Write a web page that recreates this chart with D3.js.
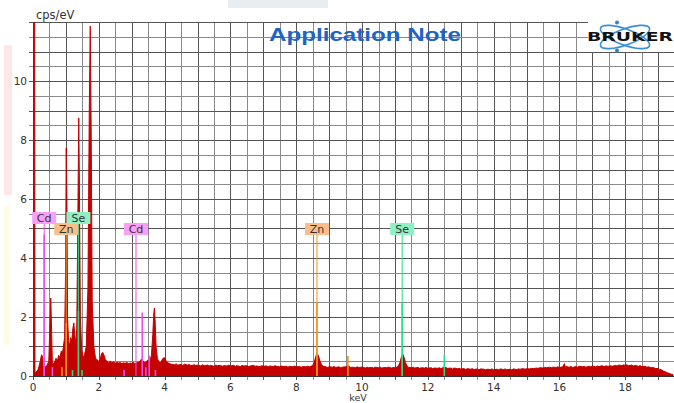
<!DOCTYPE html>
<html>
<head>
<meta charset="utf-8">
<script src="https://cdn.jsdelivr.net/npm/d3@7"></script>
<style>
  body { margin: 0; background: #fff; }
  svg { display: block; }
</style>
</head>
<body>
<div id="chart"></div>
<script>
// EDX spectrum, keV vs cps/eV
var xTicks = [0, 2, 4, 6, 8, 10, 12, 14, 16, 18];
var yTicks = [0, 2, 4, 6, 8, 10];

// [keV, cps/eV]
var spectrum = [
  [0.00, 0], [0.005, 14], [0.05, 14], [0.06, 0.1], [0.10, 0.15], [0.15, 0.2], [0.18, 0.32], [0.22, 0.5],
  [0.26, 0.72], [0.29, 0.65], [0.32, 0.22], [0.36, 0.3], [0.42, 0.35], [0.48, 0.5], [0.51, 1.6],
  [0.54, 2.64], [0.56, 1.8], [0.59, 0.4], [0.65, 0.45], [0.70, 0.6], [0.74, 0.5], [0.78, 0.7],
  [0.82, 0.62], [0.86, 0.85], [0.90, 0.8], [0.93, 1.05], [0.96, 1.3], [0.99, 3.5], [1.01, 7.73],
  [1.03, 6.0], [1.05, 2.0], [1.08, 1.2], [1.11, 1.0], [1.14, 1.3], [1.18, 1.2], [1.21, 1.6],
  [1.24, 1.8], [1.27, 1.4], [1.30, 1.1], [1.33, 1.6], [1.36, 5.0], [1.39, 8.75], [1.41, 6.5],
  [1.44, 2.0], [1.48, 0.9], [1.52, 0.65], [1.56, 0.7], [1.62, 1.0], [1.67, 3.0], [1.71, 9.0],
  [1.74, 11.86], [1.77, 8.0], [1.80, 2.5], [1.85, 1.0], [1.90, 0.6], [1.95, 0.55], [2.00, 0.5],
  [2.04, 0.56], [2.08, 0.75], [2.12, 0.8], [2.16, 0.7], [2.20, 0.55], [2.25, 0.5], [2.30, 0.45],
  [2.35, 0.5], [2.40, 0.45], [2.45, 0.48], [2.50, 0.42], [2.55, 0.47], [2.60, 0.44], [2.65, 0.46],
  [2.70, 0.42], [2.75, 0.45], [2.80, 0.43], [2.85, 0.46], [2.90, 0.42], [2.95, 0.44], [3.00, 0.43],
  [3.05, 0.46], [3.10, 0.42], [3.15, 0.45], [3.20, 0.47], [3.25, 0.5], [3.30, 0.58], [3.35, 0.5],
  [3.40, 0.45], [3.45, 0.5], [3.50, 0.55], [3.55, 0.5], [3.60, 0.7], [3.64, 1.4], [3.67, 2.1],
  [3.69, 2.3], [3.71, 1.9], [3.74, 1.0], [3.78, 0.6], [3.82, 0.5], [3.86, 0.45], [3.90, 0.5],
  [3.95, 0.6], [4.00, 0.62], [4.05, 0.5], [4.10, 0.45], [4.15, 0.42], [4.20, 0.40],
  [4.30, 0.38], [4.35, 0.41], [4.40, 0.37], [4.50, 0.39], [4.55, 0.36], [4.60, 0.40], [4.70, 0.37],
  [4.75, 0.39], [4.80, 0.35], [4.90, 0.38], [4.95, 0.36], [5.00, 0.37], [5.10, 0.34], [5.15, 0.38],
  [5.20, 0.35], [5.30, 0.37], [5.35, 0.34], [5.40, 0.36], [5.50, 0.33], [5.55, 0.37], [5.60, 0.35],
  [5.70, 0.36], [5.75, 0.33], [5.80, 0.35], [5.90, 0.34], [5.95, 0.37], [6.00, 0.34], [6.10, 0.36],
  [6.15, 0.33], [6.20, 0.35], [6.30, 0.32], [6.35, 0.36], [6.40, 0.34], [6.50, 0.35], [6.55, 0.32],
  [6.60, 0.34], [6.70, 0.36], [6.75, 0.33], [6.80, 0.34], [6.90, 0.32], [6.95, 0.35], [7.00, 0.33],
  [7.10, 0.34], [7.15, 0.31], [7.20, 0.34], [7.30, 0.32], [7.35, 0.35], [7.40, 0.33], [7.50, 0.31],
  [7.55, 0.34], [7.60, 0.32], [7.70, 0.33], [7.75, 0.30], [7.80, 0.33], [7.90, 0.31], [7.95, 0.34],
  [8.00, 0.31], [8.10, 0.32], [8.15, 0.30], [8.20, 0.32], [8.30, 0.31], [8.35, 0.33], [8.40, 0.31],
  [8.45, 0.33], [8.50, 0.36], [8.55, 0.48], [8.60, 0.68], [8.63, 0.76], [8.67, 0.70], [8.72, 0.52],
  [8.77, 0.38], [8.82, 0.33], [8.90, 0.31], [8.95, 0.29], [9.00, 0.31], [9.10, 0.30], [9.15, 0.32],
  [9.20, 0.29], [9.30, 0.31], [9.35, 0.28], [9.40, 0.30], [9.50, 0.31], [9.55, 0.34], [9.60, 0.33],
  [9.65, 0.29], [9.70, 0.30], [9.80, 0.28], [9.85, 0.31], [9.90, 0.29], [10.00, 0.30], [10.10, 0.27],
  [10.15, 0.30], [10.20, 0.28], [10.30, 0.29], [10.35, 0.27], [10.40, 0.30], [10.50, 0.28],
  [10.55, 0.30], [10.60, 0.27], [10.70, 0.29], [10.75, 0.28], [10.80, 0.30], [10.90, 0.27],
  [10.95, 0.29], [11.00, 0.28], [11.05, 0.30], [11.10, 0.33], [11.15, 0.45], [11.20, 0.66],
  [11.24, 0.74], [11.28, 0.62], [11.32, 0.45], [11.37, 0.34], [11.42, 0.29], [11.50, 0.28],
  [11.55, 0.30], [11.60, 0.27], [11.70, 0.29], [11.75, 0.26], [11.80, 0.28], [11.90, 0.27],
  [11.95, 0.29], [12.00, 0.26], [12.10, 0.28], [12.15, 0.25], [12.20, 0.27], [12.30, 0.26],
  [12.35, 0.28], [12.40, 0.25], [12.45, 0.28], [12.50, 0.31], [12.55, 0.28], [12.60, 0.26],
  [12.70, 0.27], [12.75, 0.24], [12.80, 0.27], [12.90, 0.25], [12.95, 0.26], [13.00, 0.24],
  [13.10, 0.25], [13.15, 0.22], [13.20, 0.25], [13.30, 0.23], [13.35, 0.25], [13.40, 0.22],
  [13.50, 0.24], [13.55, 0.21], [13.60, 0.24], [13.70, 0.23], [13.75, 0.21], [13.80, 0.23],
  [13.90, 0.22], [13.95, 0.24], [14.00, 0.21], [14.10, 0.23], [14.15, 0.21], [14.20, 0.24],
  [14.30, 0.22], [14.35, 0.24], [14.40, 0.21], [14.50, 0.23], [14.55, 0.21], [14.60, 0.24],
  [14.70, 0.22], [14.75, 0.24], [14.80, 0.23], [14.90, 0.25], [14.95, 0.23], [15.00, 0.25],
  [15.10, 0.24], [15.15, 0.26], [15.20, 0.25], [15.30, 0.27], [15.35, 0.26], [15.40, 0.28],
  [15.50, 0.27], [15.55, 0.29], [15.60, 0.28], [15.70, 0.30], [15.75, 0.28], [15.80, 0.30],
  [15.90, 0.29], [15.95, 0.31], [16.00, 0.29], [16.10, 0.31], [16.15, 0.42], [16.18, 0.30],
  [16.20, 0.32], [16.30, 0.30], [16.35, 0.32], [16.40, 0.29], [16.50, 0.32], [16.55, 0.30],
  [16.60, 0.33], [16.70, 0.31], [16.75, 0.33], [16.80, 0.30], [16.90, 0.33], [16.95, 0.31],
  [17.00, 0.34], [17.10, 0.31], [17.15, 0.34], [17.20, 0.32], [17.30, 0.35], [17.35, 0.32],
  [17.40, 0.34], [17.50, 0.33], [17.55, 0.35], [17.60, 0.33], [17.70, 0.36], [17.75, 0.34],
  [17.80, 0.37], [17.90, 0.35], [17.95, 0.38], [18.00, 0.36], [18.05, 0.38], [18.10, 0.35],
  [18.20, 0.37], [18.25, 0.34], [18.30, 0.36], [18.40, 0.33], [18.45, 0.35], [18.50, 0.32],
  [18.60, 0.33], [18.65, 0.30], [18.70, 0.31], [18.80, 0.28], [18.85, 0.29], [18.90, 0.26],
  [19.00, 0.25], [19.05, 0.22], [19.10, 0.21], [19.15, 0.17], [19.20, 0.15], [19.30, 0.10],
  [19.40, 0.06], [19.45, 0.05]
];

// element marker lines
var cdKeV = [0.34, 0.59, 2.77, 3.32, 3.43, 3.53, 3.72];
var cdCps = [4.8, 0.3, 0.2, 2.15, 0.3, 0.7, 0.2];
var znKeV = [0.88, 1.01, 8.63, 9.57];
var znCps = [0.3, 1.8, 2.5, 0.68];
var seKeV = [1.20, 1.38, 1.49, 11.22, 12.50];
var seCps = [0.2, 2.2, 0.2, 2.5, 0.72];

// element labels
var labelText = ["Cd", "Zn", "Se", "Cd", "Zn", "Se"];
var labelKeV = [0.34, 1.01, 1.38, 3.13, 8.63, 11.22];

var W = 674, H = 403;
var pL = 33, pR = 673, pT = 22, pB = 376;

var x = d3.scaleLinear().domain([0, 19.45]).range([pL, pR]);
var y = d3.scaleLinear().domain([0, 12]).range([pB, pT]);

var lineColor = { Cd: "#ee4cee", Zn: "#f5901e", Se: "#2fd98a" };
var boxColor = { Cd: "#f7a0f5", Zn: "#fbbd8a", Se: "#8ff0c4" };

var svg = d3.select("#chart").append("svg")
    .attr("width", W)
    .attr("height", H);

// faint watermark shades behind the page
svg.append("rect").attr("x", 228).attr("y", 0).attr("width", 100).attr("height", 8).attr("fill", "#e8edf1");
svg.append("rect").attr("x", 4).attr("y", 45).attr("width", 8).attr("height", 150).attr("fill", "#ffe6e6");
svg.append("rect").attr("x", 4).attr("y", 205).attr("width", 6).attr("height", 140).attr("fill", "#fffbe4");

svg.append("defs").append("clipPath").attr("id", "plot")
    .append("rect")
    .attr("x", pL).attr("y", pT)
    .attr("width", pR - pL + 1).attr("height", pB - pT);

// grid
var g = svg.append("g");
var xs = d3.range(0, 19.01, 0.5);
var ys = d3.range(0, 12.01, 0.5);

g.selectAll(".vg").data(xs).enter().append("line")
    .attr("x1", function (d) { return Math.round(x(d)) + 0.5; })
    .attr("x2", function (d) { return Math.round(x(d)) + 0.5; })
    .attr("y1", pT)
    .attr("y2", pB + 4)
    .attr("stroke", function (d) { return d % 1 === 0 ? "#555" : "#8a8a8a"; })
    .attr("stroke-width", 1);

g.selectAll(".hg").data(ys).enter().append("line")
    .attr("x1", pL - 4)
    .attr("x2", W)
    .attr("y1", function (d) { return Math.round(y(d)) + 0.5; })
    .attr("y2", function (d) { return Math.round(y(d)) + 0.5; })
    .attr("stroke", function (d) { return d % 1 === 0 ? "#555" : "#8a8a8a"; })
    .attr("stroke-width", 1);

// spectrum
var area = d3.area()
    .x(function (d) { return x(d[0]); })
    .y0(y(0))
    .y1(function (d) { return y(d[1]); });

svg.append("path")
    .datum(spectrum)
    .attr("clip-path", "url(#plot)")
    .attr("d", area)
    .attr("fill", "#c40000")
    .attr("stroke", "#c40000")
    .attr("stroke-width", 1);

// marker lines
var markers = [];
cdKeV.forEach(function (k, i) { markers.push({ el: "Cd", keV: k, cps: cdCps[i] }); });
znKeV.forEach(function (k, i) { markers.push({ el: "Zn", keV: k, cps: znCps[i] }); });
seKeV.forEach(function (k, i) { markers.push({ el: "Se", keV: k, cps: seCps[i] }); });

svg.selectAll(".mk").data(markers).enter().append("line")
    .attr("x1", function (d) { return x(d.keV); })
    .attr("x2", function (d) { return x(d.keV); })
    .attr("y1", y(0))
    .attr("y2", function (d) { return y(d.cps); })
    .attr("stroke", function (d) { return lineColor[d.el]; })
    .attr("stroke-width", 1.6);

// labels: two rows of boxes
var labelRow = [0, 1, 0, 1, 1, 1];
var rowTop = [212, 223];
var labels = labelText.map(function (t, i) { return { el: t, keV: labelKeV[i], row: labelRow[i] }; });

svg.selectAll(".ll").data(labels).enter().append("line")
    .attr("x1", function (d) { return x(d.keV); })
    .attr("x2", function (d) { return x(d.keV); })
    .attr("y1", y(0))
    .attr("y2", function (d) { return rowTop[d.row] + 12; })
    .attr("stroke", function (d) { return lineColor[d.el]; })
    .attr("stroke-width", 1);

var lab = svg.selectAll(".lab").data(labels).enter().append("g")
    .attr("transform", function (d) { return "translate(" + x(d.keV) + "," + rowTop[d.row] + ")"; });
lab.append("rect")
    .attr("x", -12).attr("y", 0).attr("width", 24).attr("height", 12)
    .attr("fill", function (d) { return boxColor[d.el]; });
lab.append("text")
    .attr("x", 0).attr("y", 10)
    .attr("text-anchor", "middle")
    .attr("font-family", "DejaVu Sans, sans-serif")
    .attr("font-size", 11)
    .attr("fill", "#333")
    .text(function (d) { return d.el; });

// axes lines
svg.append("line").attr("x1", pL).attr("x2", W).attr("y1", pB + 0.5).attr("y2", pB + 0.5)
    .attr("stroke", "#333");

var font = "DejaVu Sans, sans-serif";

svg.selectAll(".xt").data(xTicks).enter().append("text")
    .attr("x", function (d) { return x(d); })
    .attr("y", 391)
    .attr("text-anchor", "middle")
    .attr("font-family", font).attr("font-size", 10.5).attr("fill", "#333")
    .text(function (d) { return d; });

svg.selectAll(".yt").data(yTicks).enter().append("text")
    .attr("x", 27)
    .attr("y", function (d) { return y(d) + 4; })
    .attr("text-anchor", "end")
    .attr("font-family", font).attr("font-size", 10.5).attr("fill", "#333")
    .text(function (d) { return d; });

svg.append("text").attr("x", 358).attr("y", 401).attr("text-anchor", "middle")
    .attr("font-family", font).attr("font-size", 9.5).attr("fill", "#333")
    .text("keV");

svg.append("text").attr("x", 36).attr("y", 19)
    .attr("font-family", font).attr("font-size", 11.5).attr("fill", "#333")
    .text("cps/eV");

// title
svg.append("text")
    .attr("x", 269).attr("y", 41)
    .attr("font-family", "Liberation Sans, Arial, sans-serif")
    .attr("font-weight", "bold")
    .attr("font-size", 18)
    .attr("fill", "#1f63c4")
    .attr("textLength", 192)
    .attr("lengthAdjust", "spacingAndGlyphs")
    .text("Application Note");

// logo
svg.append("rect").attr("x", 588).attr("y", 14).attr("width", 86).attr("height", 38).attr("fill", "#fff");
var logo = svg.append("g");
[-20, 20].forEach(function (a) {
    logo.append("ellipse")
        .attr("cx", 625).attr("cy", 37).attr("rx", 26).attr("ry", 8)
        .attr("transform", "rotate(" + a + ",625,37)")
        .attr("fill", "none").attr("stroke", "#3a8fd8").attr("stroke-width", 1.6);
});
logo.append("circle").attr("cx", 617).attr("cy", 22.5).attr("r", 2).attr("fill", "#2f7fcc");
logo.append("circle").attr("cx", 617).attr("cy", 50.5).attr("r", 2).attr("fill", "#2f7fcc");
logo.append("text")
    .attr("x", 587).attr("y", 41)
    .attr("font-family", "DejaVu Sans, sans-serif")
    .attr("font-weight", "bold")
    .attr("font-size", 12)
    .attr("fill", "#111")
    .attr("textLength", 86)
    .attr("lengthAdjust", "spacingAndGlyphs")
    .text("BRUKER");
</script>
</body>
</html>
